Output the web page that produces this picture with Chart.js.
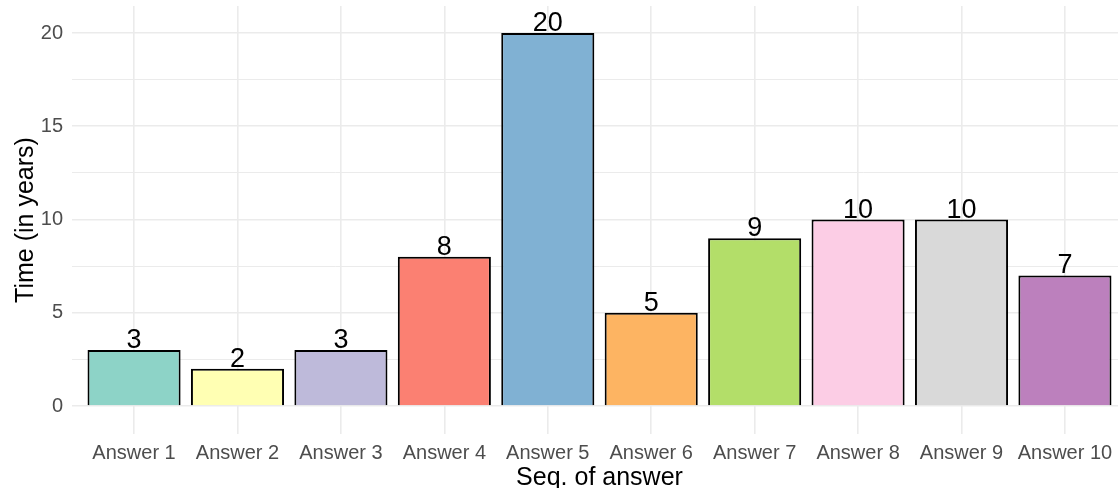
<!DOCTYPE html>
<html>
<head>
<meta charset="utf-8">
<title>Time per answer</title>
<script src="https://cdn.jsdelivr.net/npm/chart.js@4.4.1/dist/chart.umd.min.js"></script>
<style>
  html, body { margin: 0; padding: 0; background: #ffffff; overflow: hidden; }
  canvas { display: block; }
</style>
</head>
<body>
<canvas id="chart" width="1127" height="488"></canvas>
<script>
// Categories and values
const categories = ['Answer 1', 'Answer 2', 'Answer 3', 'Answer 4', 'Answer 5',
                    'Answer 6', 'Answer 7', 'Answer 8', 'Answer 9', 'Answer 10'];
const years = [3, 2, 3, 8, 20, 5, 9, 10, 10, 7];
const barColors = ['#8DD3C7', '#FFFFB3', '#BEBADA', '#FB8072', '#80B1D3',
                   '#FDB462', '#B3DE69', '#FCCDE5', '#D9D9D9', '#BC80BD'];
const yMajorTicks = [0, 5, 10, 15, 20];
const yMinorTicks = [2.5, 7.5, 12.5, 17.5];

const FONT = "'Liberation Sans', Arial, Helvetica, sans-serif";
Chart.defaults.font.family = FONT;

// Writes each bar's value just above it
const valueLabels = {
  id: 'valueLabels',
  afterDatasetsDraw(chart) {
    const ctx = chart.ctx;
    const meta = chart.getDatasetMeta(0);
    ctx.save();
    ctx.font = '27px ' + FONT;
    ctx.fillStyle = '#000000';
    ctx.textAlign = 'center';
    ctx.textBaseline = 'alphabetic';
    meta.data.forEach((bar, i) => {
      ctx.fillText(String(years[i]), bar.x, bar.y - 2);
    });
    ctx.restore();
  }
};

// Fixed axis band sizes, without the extra room Chart.js keeps for edge labels
function fixBand(size, prop) {
  return (scale) => {
    scale[prop] = size;
    scale.paddingTop = 0;
    scale.paddingBottom = 0;
    scale.paddingLeft = 0;
    scale.paddingRight = 0;
  };
}

new Chart(document.getElementById('chart'), {
  type: 'bar',
  data: {
    datasets: [{
      data: years.map((v, i) => ({ x: i, y: v })),
      backgroundColor: barColors,
      borderColor: '#000000',
      borderWidth: 2,
      barPercentage: 0.9,
      categoryPercentage: 1.0
    }]
  },
  options: {
    responsive: false,
    animation: false,
    events: [],
    layout: { padding: { top: 6, right: 0, bottom: 0, left: 0 } },
    plugins: {
      legend: { display: false },
      tooltip: { enabled: false }
    },
    scales: {
      x: {
        type: 'linear',
        offset: false,
        min: -0.6,
        max: categories.length - 0.4,
        afterBuildTicks(scale) {
          scale.ticks = categories.map((_, i) => ({ value: i }));
        },
        afterFit: fixBand(54, 'height'),
        ticks: {
          autoSkip: false,
          maxRotation: 0,
          padding: 7,
          color: '#4D4D4D',
          font: { size: 20 },
          callback: (v) => categories[v]
        },
        grid: { offset: false, color: '#EBEBEB', lineWidth: 1.6, drawTicks: false },
        border: { display: false },
        title: {
          display: true,
          text: 'Seq. of answer',
          color: '#000000',
          font: { size: 25, lineHeight: 1 },
          padding: { top: 0, bottom: -3 }
        }
      },
      y: {
        min: -1.5,
        max: 21.45,
        afterBuildTicks(scale) {
          scale.ticks = yMajorTicks.concat(yMinorTicks)
            .sort((a, b) => a - b)
            .map(v => ({ value: v }));
        },
        afterFit: fixBand(72, 'width'),
        ticks: {
          padding: 9,
          color: '#4D4D4D',
          font: { size: 20 },
          callback: (v) => (yMajorTicks.includes(v) ? String(v) : '')
        },
        grid: {
          color: '#EBEBEB',
          lineWidth: (c) => (c.tick && yMajorTicks.includes(c.tick.value) ? 1.6 : 1.0),
          drawTicks: false
        },
        border: { display: false },
        title: {
          display: true,
          text: 'Time (in years)',
          color: '#000000',
          font: { size: 25, lineHeight: 1 },
          padding: { top: 14, bottom: 0 }
        }
      }
    }
  },
  plugins: [valueLabels]
});
</script>
</body>
</html>
